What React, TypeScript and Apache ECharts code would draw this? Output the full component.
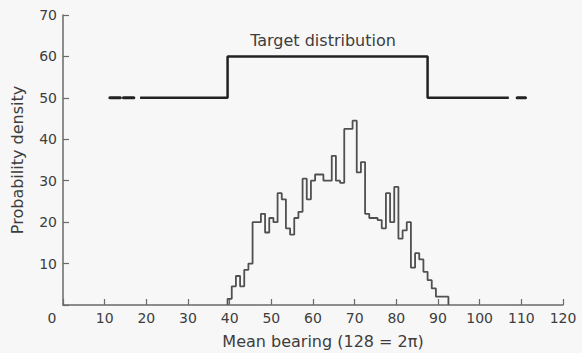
import React, { useEffect, useRef } from "react";
import * as echarts from "echarts";

// Histogram of mean bearings (bins of one unit, 128 = 2π), first bin edge
const histStart = 39.5;
const histBinWidth = 1;
const histValues = [
  1.5, 4.5, 7, 4.5, 8.5, 10, 20, 20, 22, 17.5, 21, 20, 27, 25.5, 18.5, 17, 21,
  22.5, 30.5, 25.5, 30, 31.5, 31.5, 30, 30, 36, 30, 29.5, 42.5, 42.5, 44.5, 32,
  34.5, 22, 21, 21, 20.5, 18.5, 27, 20, 28.5, 16, 18, 20, 9, 12.5, 11, 8, 6, 4,
  2, 2, 2,
];

// Target distribution (step function) edges and levels
const targetEdges = [18.5, 39.5, 87.5, 107];
const targetLevels = [50, 60, 50];
// dashed continuation pieces of the target line (start, end) at level 50
const targetDashes = [
  [11.25, 13.75],
  [14.5, 17],
  [109, 111],
];
const targetDashLevel = 50;

const xTickInterval = 10;
const xMax = 120;
const yTickInterval = 10;
const yMax = 70;

const xName = "Mean bearing (128 = 2\u03c0)";
const yName = "Probability density";
const targetLabel = "Target distribution";

const FONT = "DejaVu Sans";
const TEXT = "#3d3d3d";
const AXIS = "#6a6a6a";

export default function App() {
  const ref = useRef<HTMLDivElement>(null);

  useEffect(() => {
    if (!ref.current) return;
    const chart = echarts.init(ref.current, undefined, { renderer: "svg" });

    const histData: any[] = [[histStart, 0]];
    histValues.forEach((v, i) => histData.push([histStart + i * histBinWidth, v]));
    histData.push([histStart + histValues.length * histBinWidth, 0]);

    const targetData: any[] = targetLevels.map((lv, i) => [targetEdges[i], lv]);
    targetData.push([targetEdges[targetEdges.length - 1], targetLevels[targetLevels.length - 1]]);

    const dashSeries = targetDashes.map((d) => ({
      type: "line",
      data: [
        [d[0], targetDashLevel],
        [d[1], targetDashLevel],
      ],
      symbol: "none",
      silent: true,
      lineStyle: { color: "#222", width: 3, cap: "round" },
    }));

    chart.setOption({
      animation: false,
      backgroundColor: "#f7f7f7",
      grid: { left: 63, right: 19, top: 15, bottom: 48, containLabel: false, outerBoundsMode: "none" },
      xAxis: {
        type: "value",
        min: 0,
        max: xMax,
        interval: xTickInterval,
        splitLine: { show: false },
        axisLine: { lineStyle: { color: AXIS, width: 1.5 } },
        axisTick: { inside: true, length: 6, lineStyle: { color: AXIS, width: 1.2 } },
        axisLabel: {
          color: TEXT,
          fontSize: 14,
          fontFamily: FONT,
          margin: 6,
          formatter: (v: number) => (v === 0 ? "{z|0}" : String(v)),
          rich: {
            z: { padding: [0, 22, 0, 0], fontSize: 14, fontFamily: FONT, color: TEXT },
          },
        },
        name: xName,
        nameLocation: "middle",
        nameGap: 28,
        nameTextStyle: { color: TEXT, fontSize: 16, fontFamily: FONT, padding: [0, 0, 0, 20] },
      },
      yAxis: {
        type: "value",
        min: 0,
        max: yMax,
        interval: yTickInterval,
        splitLine: { show: false },
        axisLine: { show: true, lineStyle: { color: AXIS, width: 1.5 } },
        axisTick: { show: true, inside: true, length: 6, lineStyle: { color: AXIS, width: 1.2 } },
        axisLabel: {
          color: TEXT,
          fontSize: 14,
          fontFamily: FONT,
          margin: 6,
          formatter: (v: number) => (v === 0 ? "" : String(v)),
        },
        name: yName,
        nameLocation: "middle",
        nameGap: 38,
        nameTextStyle: { color: TEXT, fontSize: 16, fontFamily: FONT },
      },
      graphic: [
        {
          type: "text",
          x: 323,
          y: 40,
          style: {
            text: targetLabel,
            fill: TEXT,
            font: `16px "${FONT}"`,
            textAlign: "center",
            textVerticalAlign: "middle",
          },
        },
      ],
      series: [
        {
          type: "line",
          step: "end",
          data: histData,
          symbol: "none",
          silent: true,
          lineStyle: { color: "#505050", width: 1.8 },
        },
        {
          type: "line",
          step: "end",
          data: targetData,
          symbol: "none",
          silent: true,
          lineStyle: { color: "#222", width: 2.5 },
        },
        ...dashSeries,
      ],
    });

    return () => chart.dispose();
  }, []);

  return (
    <div
      ref={ref}
      style={{ position: "fixed", left: 0, top: 0, width: 582, height: 353, background: "#f7f7f7" }}
    />
  );
}
